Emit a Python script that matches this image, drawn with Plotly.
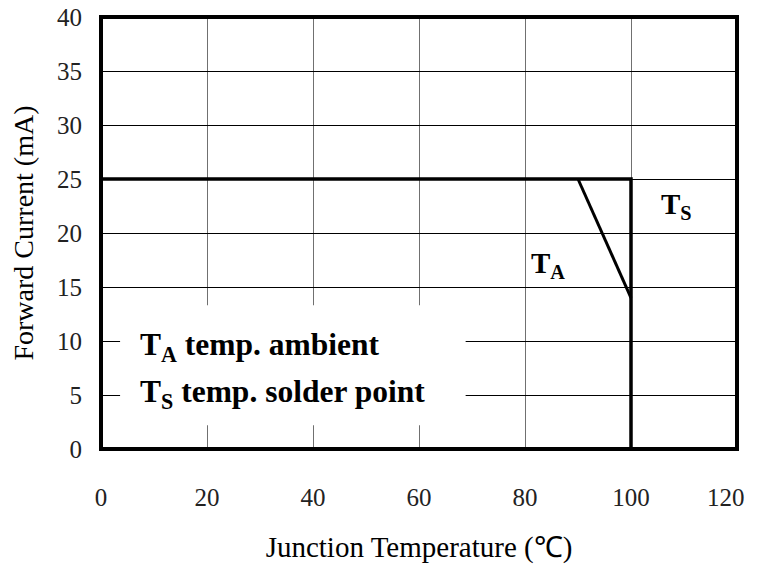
import plotly.graph_objects as go

# Data
ts_x = [0, 100, 100]
ts_y = [25, 25, 0]
ta_x = [90, 100]
ta_y = [25, 14]
x_ticks = [0, 20, 40, 60, 80, 100, 120]
y_ticks = [0, 5, 10, 15, 20, 25, 30, 35, 40]

FONT = "Liberation Serif"
TICK_SIZE = 25

fig = go.Figure()
fig.add_trace(go.Scatter(x=ts_x, y=ts_y, mode="lines",
                         line=dict(color="black", width=3.5), showlegend=False, hoverinfo="skip"))
fig.add_trace(go.Scatter(x=ta_x, y=ta_y, mode="lines",
                         line=dict(color="black", width=3), showlegend=False, hoverinfo="skip"))

# white legend box covering grid
fig.add_shape(type="rect", xref="x", yref="y", x0=3.6, x1=68.8, y0=2.2, y1=13.3,
              fillcolor="white", line=dict(width=0), layer="above")
# thick border
fig.add_shape(type="rect", xref="paper", yref="paper", x0=0, x1=1, y0=0, y1=1,
              line=dict(color="black", width=4), layer="above")

fig.add_annotation(x=7.0, y=9.4, xref="x", yref="y", xanchor="left", yanchor="middle",
                   text="<b>T<sub>A</sub> temp. ambient</b>", showarrow=False,
                   font=dict(family=FONT, size=31.5, color="black"))
fig.add_annotation(x=7.0, y=5.1, xref="x", yref="y", xanchor="left", yanchor="middle",
                   text="<b>T<sub>S</sub> temp. solder point</b>", showarrow=False,
                   font=dict(family=FONT, size=31.5, color="black"))
fig.add_annotation(x=105.3, y=22.5, xref="x", yref="y", xanchor="left", yanchor="middle",
                   text="<b>T<sub>S</sub></b>", showarrow=False,
                   font=dict(family=FONT, size=29, color="black"))
fig.add_annotation(x=80.8, y=17.0, xref="x", yref="y", xanchor="left", yanchor="middle",
                   text="<b>T<sub>A</sub></b>", showarrow=False,
                   font=dict(family=FONT, size=29, color="black"))

# last x tick label kept inside the page edge
x_ticktext = [str(v) for v in x_ticks[:-1]] + [""]
fig.add_annotation(x=x_ticks[-1], y=0, xref="x", yref="paper", xanchor="right", yanchor="middle",
                   xshift=10, yshift=-48, text=str(x_ticks[-1]), showarrow=False,
                   font=dict(family=FONT, size=TICK_SIZE, color="#222"))

# page body has an 8px margin: figure is offset by (8, 8)
fig.update_layout(
    width=742, height=556,
    margin=dict(l=93, r=13, t=9, b=115, autoexpand=False),
    paper_bgcolor="white", plot_bgcolor="white",
    font=dict(family=FONT, size=TICK_SIZE, color="#222"),
    xaxis=dict(range=[0, 120], tickvals=x_ticks, ticktext=x_ticktext, showgrid=True,
               gridcolor="#707070", gridwidth=1,
               zeroline=False, showline=False, ticks="", ticklabelstandoff=31, automargin=False,
               ticklabeloverflow="allow",
               title=dict(text="Junction Temperature (℃)", standoff=30,
                          font=dict(family=FONT, size=29, color="black"))),
    yaxis=dict(range=[0, 40], tickvals=y_ticks, showgrid=True, gridcolor="black", gridwidth=1,
               zeroline=False, showline=False, ticks="", ticklabelstandoff=18, automargin=False,
               ticklabeloverflow="allow",
               title=dict(text="Forward Current (mA)", standoff=17,
                          font=dict(family=FONT, size=28, color="black"))),
)

fig.write_html("out.html")
